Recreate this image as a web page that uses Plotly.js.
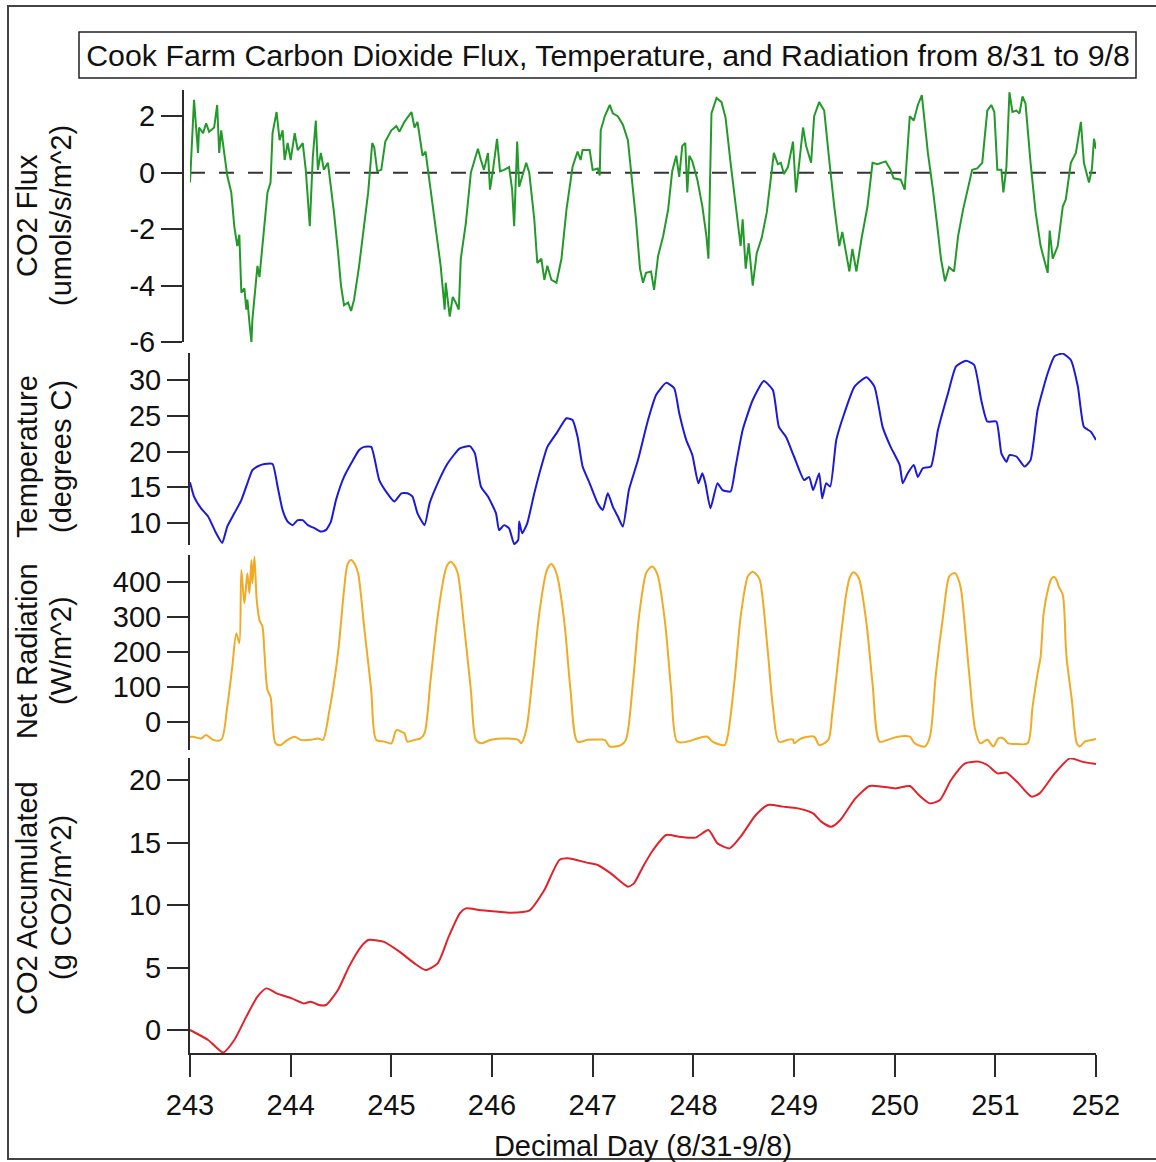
<!DOCTYPE html>
<html>
<head>
<meta charset="utf-8">
<script src="https://cdn.plot.ly/plotly-3.0.1.min.js"></script>
<style>
html,body{margin:0;padding:0;background:#fff;}
#chart{width:1156px;height:1162px;}
</style>
</head>
<body>
<div id="chart"></div>
<script>
// ---------- data ----------
const fluxDays = [243.00,243.04,243.08,243.09,243.13,243.16,243.19,243.24,243.27,243.29,243.31,243.34,243.37,243.41,243.44,243.47,243.49,243.51,243.54,243.56,243.57,243.59,243.61,243.62,243.66,243.67,243.69,243.74,243.77,243.80,243.82,243.86,243.89,243.92,243.94,243.97,244.00,244.04,244.07,244.12,244.15,244.19,244.22,244.25,244.27,244.30,244.33,244.37,244.43,244.47,244.50,244.53,244.57,244.60,244.63,244.68,244.72,244.77,244.81,244.83,244.86,244.90,244.94,245.00,245.05,245.08,245.13,245.20,245.23,245.26,245.31,245.34,245.39,245.44,245.49,245.53,245.54,245.58,245.61,245.64,245.67,245.69,245.74,245.79,245.86,245.89,245.92,245.96,245.98,246.01,246.05,246.08,246.12,246.17,246.20,246.22,246.25,246.27,246.30,246.34,246.37,246.42,246.45,246.49,246.52,246.55,246.59,246.64,246.69,246.74,246.80,246.85,246.88,246.90,246.97,247.00,247.05,247.07,247.08,247.12,247.17,247.20,247.25,247.30,247.35,247.40,247.43,247.47,247.50,247.53,247.58,247.61,247.65,247.70,247.75,247.79,247.83,247.86,247.89,247.92,247.94,247.96,247.99,248.04,248.09,248.13,248.15,248.18,248.23,248.28,248.32,248.37,248.42,248.47,248.49,248.52,248.55,248.59,248.63,248.68,248.73,248.76,248.80,248.84,248.87,248.90,248.94,248.99,249.02,249.09,249.12,249.17,249.20,249.25,249.30,249.35,249.40,249.45,249.48,249.55,249.58,249.62,249.67,249.73,249.78,249.83,249.91,249.96,249.99,250.06,250.10,250.15,250.19,250.23,250.27,250.33,250.38,250.43,250.46,250.50,250.54,250.59,250.63,250.68,250.73,250.77,250.82,250.87,250.92,250.96,250.99,251.02,251.06,251.08,251.11,251.14,251.17,251.21,251.24,251.27,251.30,251.35,251.40,251.45,251.49,251.52,251.54,251.57,251.62,251.67,251.70,251.75,251.80,251.85,251.88,251.93,251.96,251.98,252.00];
const fluxValues = [-0.35,2.58,0.7,1.6,1.4,1.75,1.45,1.6,2.4,0.7,1.5,0.6,-0.1,-0.7,-1.9,-2.6,-2.2,-4.25,-4.1,-4.85,-4.5,-5.3,-6.0,-5.2,-3.55,-3.3,-3.7,-1.9,-0.7,-0.35,1.4,2.15,1.15,1.5,0.45,1.05,0.45,1.4,0.8,1.05,0.1,-1.9,0.55,1.85,0.1,0.7,0.1,0.35,-1.4,-2.8,-4.0,-4.7,-4.6,-4.9,-4.5,-3.3,-2.1,-0.7,1.05,0.9,0.05,0.1,1.1,1.5,1.65,1.45,1.8,2.15,1.6,1.8,0.6,0.75,-0.6,-1.9,-3.3,-4.85,-3.9,-5.1,-4.4,-4.6,-4.85,-3.05,-1.8,0.0,0.85,0.45,0.1,0.7,-0.6,0.1,1.2,0.05,0.1,0.2,-0.6,-1.9,1.1,-0.5,-0.15,0.35,0.0,-1.65,-3.2,-3.05,-3.8,-3.3,-3.8,-3.9,-3.05,-1.3,0.2,0.75,0.45,0.8,0.8,0.1,0.15,-0.1,1.5,2.0,2.4,2.1,2.0,1.7,1.15,-0.5,-1.65,-3.4,-3.9,-3.55,-3.5,-4.15,-2.95,-2.25,-1.3,0.05,0.6,-0.15,0.95,1.05,-0.7,0.6,0.4,-0.25,-1.2,-2.25,-3.05,2.1,2.65,2.5,1.95,0.35,-1.2,-2.6,-1.65,-3.4,-2.5,-4.0,-2.85,-2.3,-1.4,-0.4,0.7,0.3,0.35,-0.05,0.2,1.1,-0.7,1.6,0.95,0.35,2.0,2.5,2.2,0.45,-1.2,-2.6,-2.1,-3.5,-2.7,-3.5,-2.35,-1.2,0.35,0.3,0.4,0.1,-0.2,-0.25,-0.6,2.0,1.85,2.4,2.75,0.7,-0.6,-2.1,-3.05,-3.85,-3.35,-3.5,-2.25,-1.3,-0.5,0.1,0.15,0.35,2.2,2.4,2.15,0.1,0.1,-0.7,0.2,2.85,2.15,2.2,2.1,2.7,2.45,0.35,-1.4,-2.6,-3.15,-3.55,-2.05,-3.05,-2.6,-1.2,-0.95,0.35,0.7,1.8,0.35,-0.35,0.15,1.2,0.85];

const tempDays = [243.00,243.04,243.11,243.18,243.26,243.32,243.37,243.44,243.51,243.57,243.62,243.67,243.74,243.82,243.87,243.92,243.97,244.02,244.07,244.12,244.17,244.24,244.30,244.35,244.40,244.45,244.53,244.62,244.68,244.73,244.80,244.88,244.96,245.03,245.10,245.16,245.21,245.26,245.33,245.38,245.46,245.56,245.68,245.78,245.83,245.89,245.96,246.04,246.07,246.12,246.17,246.22,246.26,246.27,246.30,246.35,246.42,246.49,246.55,246.65,246.74,246.80,246.85,246.90,246.97,247.05,247.10,247.15,247.20,247.25,247.30,247.36,247.45,247.55,247.63,247.73,247.81,247.86,247.93,247.99,248.05,248.09,248.12,248.17,248.24,248.29,248.37,248.42,248.49,248.59,248.70,248.79,248.85,248.92,249.00,249.10,249.15,249.19,249.25,249.28,249.32,249.36,249.42,249.50,249.60,249.72,249.80,249.88,249.96,250.05,250.08,250.13,250.19,250.23,250.28,250.36,250.43,250.53,250.61,250.71,250.79,250.86,250.92,251.01,251.06,251.11,251.14,251.21,251.29,251.35,251.42,251.52,251.59,251.67,251.75,251.82,251.88,251.95,252.00];
const tempValues = [15.7,13.7,12.05,10.9,8.55,7.2,9.5,11.35,13.2,15.55,17.4,17.9,18.25,18.25,15.1,11.8,10.2,9.7,10.4,10.4,9.7,9.25,8.8,9.0,10.2,13.2,16.45,18.8,20.2,20.65,20.65,16.0,14.15,13.0,14.15,14.15,13.7,11.35,9.7,12.75,15.55,18.35,20.45,20.75,19.75,15.1,13.7,11.35,9.0,9.7,9.25,7.05,7.6,10.2,8.55,9.95,14.15,17.9,20.65,22.75,24.65,24.4,22.05,17.9,15.55,12.75,11.8,14.15,12.3,10.9,9.5,14.6,18.8,24.4,27.9,29.6,28.85,25.35,21.6,19.5,15.55,16.95,15.55,12.05,15.55,14.6,14.4,17.9,23.0,27.2,29.85,28.6,23.45,22.05,19.3,16.0,16.45,14.6,16.95,13.45,15.55,15.1,21.6,25.35,29.05,30.4,29.05,23.45,20.65,18.1,15.55,16.95,18.1,16.45,17.65,17.9,23.0,28.15,31.9,32.7,32.1,27.2,24.2,24.2,19.75,18.55,19.5,19.3,17.9,18.8,25.8,30.95,33.35,33.7,32.8,29.05,23.45,22.75,21.6];

const radDays = [243.00,243.03,243.11,243.16,243.23,243.31,243.37,243.42,243.46,243.49,243.51,243.54,243.57,243.59,243.61,243.62,243.64,243.66,243.67,243.69,243.72,243.74,243.77,243.80,243.85,243.90,243.97,244.04,244.10,244.20,244.27,244.32,244.38,244.47,244.53,244.565,244.60,244.635,244.67,244.73,244.80,244.85,244.93,245.00,245.05,245.10,245.13,245.16,245.23,245.29,245.33,245.39,245.46,245.53,245.555,245.59,245.625,245.66,245.72,245.79,245.84,245.89,245.99,246.12,246.26,246.29,246.34,246.40,246.47,246.54,246.565,246.59,246.62,246.65,246.72,246.78,246.85,246.95,247.05,247.12,247.17,247.28,247.33,247.40,247.46,247.53,247.56,247.59,247.62,247.65,247.72,247.78,247.84,247.94,248.04,248.14,248.19,248.31,248.34,248.41,248.47,248.54,248.565,248.59,248.625,248.66,248.74,248.79,248.85,248.94,248.99,249.00,249.07,249.20,249.25,249.34,249.38,249.45,249.52,249.555,249.59,249.62,249.65,249.72,249.78,249.85,249.93,250.03,250.15,250.20,250.30,250.35,250.41,250.48,250.54,250.57,250.60,250.63,250.66,250.74,250.80,250.85,250.92,250.98,251.03,251.08,251.13,251.22,251.32,251.37,251.42,251.45,251.48,251.53,251.555,251.58,251.605,251.63,251.67,251.70,251.71,251.76,251.81,251.84,251.89,251.98,252.00];
const radValues = [-42,-42,-47,-37,-51,-51,44,158,253,225,434,339,425,368,463,396,472,358,329,291,272,196,91,72,-61,-66,-51,-42,-51,-51,-47,-51,25,196,377,450,463,452,425,272,91,-51,-56,-61,-23,-28,-32,-56,-51,-47,-32,120,301,425,448,458,448,425,282,91,-51,-61,-51,-47,-51,-61,-23,120,311,429,445,451,440,415,282,91,-56,-51,-50,-51,-70,-66,-51,111,301,425,438,444,436,415,282,91,-56,-56,-47,-42,-56,-66,-42,120,301,415,425,429,422,406,200,44,-56,-51,-50,-61,-47,-42,-66,-51,25,206,368,414,428,422,406,282,111,-56,-51,-42,-42,-61,-70,-42,139,301,415,423,425,410,377,139,-23,-61,-51,-70,-47,-47,-61,-63,-61,44,139,187,311,387,408,415,408,387,363,215,177,63,-61,-70,-56,-50,-48];

const accDays = [243.00,243.18,243.33,243.44,243.56,243.67,243.76,243.86,244.01,244.13,244.20,244.28,244.35,244.47,244.58,244.70,244.77,244.92,245.08,245.23,245.34,245.46,245.57,245.68,245.74,245.87,246.06,246.18,246.37,246.52,246.67,246.77,246.94,247.05,247.18,247.35,247.41,247.50,247.60,247.73,247.86,248.02,248.15,248.24,248.36,248.47,248.62,248.74,248.89,249.04,249.19,249.27,249.37,249.46,249.61,249.75,249.88,250.01,250.15,250.24,250.35,250.45,250.56,250.70,250.83,250.92,251.02,251.11,251.23,251.36,251.44,251.59,251.74,251.86,251.91,252.00];
const accValues = [0.0,-0.8,-1.8,-0.8,1.07,2.67,3.33,2.93,2.53,2.13,2.27,2.0,2.0,3.2,5.07,6.67,7.2,7.07,6.27,5.33,4.8,5.33,7.47,9.33,9.73,9.6,9.47,9.39,9.55,11.2,13.6,13.73,13.39,13.2,12.53,11.47,11.73,13.07,14.4,15.6,15.47,15.39,16.0,14.93,14.53,15.47,17.2,18.0,17.87,17.73,17.33,16.67,16.27,16.8,18.53,19.52,19.47,19.33,19.52,18.8,18.13,18.4,20.0,21.33,21.47,21.2,20.53,20.59,19.73,18.67,18.93,20.53,21.73,21.47,21.39,21.28];

const dayTicks = [243,244,245,246,247,248,249,250,251,252];
const fluxTicks = [-6,-4,-2,0,2];
const fluxTickLabels = ['-6','-4','-2','0','2'];
const tempTicks = [10,15,20,25,30];
const radTicks = [0,100,200,300,400];
const accTicks = [0,5,10,15,20];

const chartTitle = 'Cook Farm Carbon Dioxide Flux, Temperature, and Radiation from 8/31 to 9/8';
const xTitle = 'Decimal Day (8/31-9/8)';
const yTitles = [
  ['CO2 Flux', '(umols/s/m^2)'],
  ['Temperature', '(degrees C)'],
  ['Net Radiation', '(W/m^2)'],
  ['CO2 Accumulated', '(g CO2/m^2)']
];

// ---------- styling ----------
const FONT = 'Liberation Sans, Arial, Helvetica, sans-serif';
const AX = '#2b2b2b';
const xRange = [243, 252];

function yAxis(domain, range, ticks, extra) {
  return Object.assign({
    domain: domain, range: range, tickvals: ticks,
    showline: true, linecolor: AX, linewidth: 2,
    ticks: 'outside', ticklen: 21, tickwidth: 2, tickcolor: AX,
    showgrid: false, zeroline: false,
    tickfont: {family: FONT, size: 29, color: '#111'},
    anchor: 'x', fixedrange: true
  }, extra || {});
}

const traces = [
  {x: fluxDays, y: fluxValues, xaxis: 'x', yaxis: 'y', mode: 'lines',
   line: {color: '#23992a', width: 2}, hoverinfo: 'skip'},
  {x: tempDays, y: tempValues, xaxis: 'x', yaxis: 'y2', mode: 'lines',
   line: {color: '#1a1ad8', width: 2, shape: 'spline', smoothing: 0.5}, hoverinfo: 'skip'},
  {x: radDays, y: radValues, xaxis: 'x', yaxis: 'y3', mode: 'lines',
   line: {color: '#f0aa25', width: 2, shape: 'spline', smoothing: 0.8}, hoverinfo: 'skip'},
  {x: accDays, y: accValues, xaxis: 'x', yaxis: 'y4', mode: 'lines',
   line: {color: '#e2222a', width: 2, shape: 'spline', smoothing: 0.6}, hoverinfo: 'skip'}
];

// paper-coordinate helpers (plot area: 183..1096 px wide, 90..1053 px tall)
const L = 183, R = 1096, T = 90, B = 1053;
const px = v => (v - L) / (R - L);
const py = v => 1 - (v - T) / (B - T);

const yCenters = [216, 457, 651, 898];
const annotations = [];
yTitles.forEach((pair, i) => {
  annotations.push({text: pair[0], xref: 'paper', yref: 'paper', x: px(27), y: py(yCenters[i]),
    xanchor: 'center', yanchor: 'middle', textangle: -90, showarrow: false,
    font: {family: FONT, size: 29, color: '#111'}});
  annotations.push({text: pair[1], xref: 'paper', yref: 'paper', x: px(61), y: py(yCenters[i]),
    xanchor: 'center', yanchor: 'middle', textangle: -90, showarrow: false,
    font: {family: FONT, size: 29, color: '#111'}});
});

const layout = {
  width: 1156, height: 1162,
  margin: {l: L, r: 1156 - R, t: T, b: 1162 - B, pad: 0},
  paper_bgcolor: '#ffffff', plot_bgcolor: '#ffffff',
  showlegend: false,
  title: {text: chartTitle, xref: 'container', yref: 'container',
    x: 608 / 1156, xanchor: 'center', y: 1 - 55 / 1162, yanchor: 'middle',
    font: {family: FONT, size: 30.3, color: '#111'}},
  xaxis: {
    domain: [px(190), 1], range: xRange, tickvals: dayTicks,
    anchor: 'y4', showline: true, linecolor: AX, linewidth: 2,
    ticks: 'outside', ticklen: 22, tickwidth: 2, tickcolor: AX,
    ticklabelstandoff: 3,
    showgrid: false, zeroline: false, fixedrange: true,
    tickfont: {family: FONT, size: 29, color: '#111'},
    title: {text: xTitle, standoff: 17, font: {family: FONT, size: 29, color: '#111'}}
  },
  yaxis: yAxis([py(342), 1], [-6, 2.93], fluxTicks, {anchor: 'free', position: 0, ticktext: fluxTickLabels}),
  yaxis2: yAxis([py(545), py(353)], [6.92, 33.78], tempTicks),
  yaxis3: yAxis([py(750), py(555)], [-80, 477], radTicks),
  yaxis4: yAxis([0, py(758)], [-1.84, 21.76], accTicks),
  shapes: [
    {type: 'line', xref: 'x', yref: 'y', x0: xRange[0], x1: xRange[1], y0: 0, y1: 0,
     line: {color: '#333', width: 2, dash: '15px,14px'}, layer: 'below'},
    {type: 'rect', xref: 'paper', yref: 'paper', x0: px(79), x1: px(1136), y0: py(78), y1: py(32),
     line: {color: '#222', width: 1.5}},
    {type: 'rect', xref: 'paper', yref: 'paper', x0: px(8), x1: px(1165), y0: py(1159), y1: py(6),
     line: {color: '#444', width: 2}}
  ],
  annotations: annotations
};

Plotly.newPlot('chart', traces, layout, {displayModeBar: false, staticPlot: true});
</script>
</body>
</html>
